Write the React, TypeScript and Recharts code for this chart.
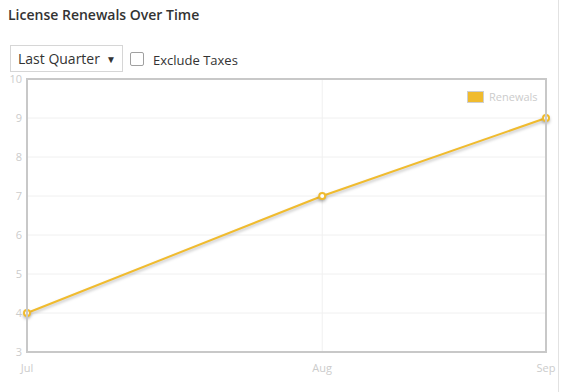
import React from "react";
import {
    LineChart,
    Line,
    XAxis,
    YAxis,
    CartesianGrid,
} from "recharts";

// x positions are days since the start of the quarter (time axis, not evenly spaced)
const months = ["Jul", "Aug", "Sep"];
const days = [0, 31, 54.5];
const renewals = [4, 7, 9];
const yTicks = [3, 4, 5, 6, 7, 8, 9, 10];

const chartData = months.map((month, i) => ({ month, day: days[i], renewals: renewals[i] }));

const LINE_COLOR = "#f0bb2e";
const FONT = "'Open Sans', sans-serif";

const monthForDay = (d: number) => months[days.indexOf(d)] ?? "";

export default function App() {
    return (
        <div style={{ position: "absolute", left: 0, top: 0, width: 562, height: 392, background: "#fff", fontFamily: FONT }}>
            {/* panel edge on the right */}
            <div style={{ position: "absolute", left: 558, top: 0, width: 1, height: 392, background: "#e2e2e2" }} />

            <div style={{ position: "absolute", left: 8, top: 5, fontSize: 14, color: "#333", fontWeight: 600 }}>
                License Renewals Over Time
            </div>

            {/* period select */}
            <div
                style={{
                    position: "absolute",
                    left: 10,
                    top: 45,
                    width: 113,
                    height: 27,
                    border: "1px solid #d6d6d6",
                    boxSizing: "border-box",
                    fontSize: 14,
                    color: "#333",
                    lineHeight: "26px",
                    paddingLeft: 7,
                }}
            >
                Last Quarter
                <span style={{ position: "absolute", right: 6, top: 0, fontSize: 10 }}>▼</span>
            </div>

            {/* exclude taxes checkbox */}
            <div
                style={{
                    position: "absolute",
                    left: 130,
                    top: 52,
                    width: 14,
                    height: 14,
                    border: "1px solid #a0a0a0",
                    borderRadius: 2,
                    boxSizing: "border-box",
                }}
            />
            <div style={{ position: "absolute", left: 153, top: 51, fontSize: 13, color: "#333" }}>
                Exclude Taxes
            </div>

            <div style={{ position: "absolute", left: 0, top: 70 }}>
                <LineChart
                    width={562}
                    height={322}
                    data={chartData}
                    margin={{ top: 9, right: 16, left: 0, bottom: 0 }}
                >
                    <CartesianGrid stroke="#f0f0f0" />
                    <XAxis
                        dataKey="day"
                        type="number"
                        domain={["dataMin", "dataMax"]}
                        ticks={days}
                        interval={0}
                        tickFormatter={monthForDay}
                        height={40}
                        axisLine={false}
                        tickLine={false}
                        tickSize={6}
                        tickMargin={6}
                        tick={{ fill: "#cccccc", fontSize: 11, fontFamily: FONT }}
                    />
                    <YAxis
                        width={27}
                        domain={[3, 10]}
                        ticks={yTicks}
                        interval={0}
                        axisLine={false}
                        tickLine={false}
                        tickSize={5}
                        tickMargin={0}
                        tick={{ fill: "#cccccc", fontSize: 11, fontFamily: FONT }}
                    />
                    <Line
                        type="linear"
                        dataKey="renewals"
                        name="Renewals"
                        stroke={LINE_COLOR}
                        strokeWidth={2}
                        style={{ filter: "drop-shadow(0px 2px 1.5px rgba(0,0,0,0.25))" }}
                        dot={{ r: 3, fill: "#fff", stroke: LINE_COLOR, strokeWidth: 2 }}
                        activeDot={false}
                        isAnimationActive={false}
                    />
                </LineChart>
            </div>

            {/* legend, top right inside the plot */}
            <div
                style={{
                    position: "absolute",
                    left: 467,
                    top: 89,
                    display: "flex",
                    alignItems: "center",
                    fontSize: 11,
                    color: "#cccccc",
                }}
            >
                <span
                    style={{
                        display: "inline-block",
                        width: 17,
                        height: 12,
                        boxSizing: "border-box",
                        background: LINE_COLOR,
                        border: "1px solid #cfcfcf",
                        marginRight: 5,
                    }}
                />
                Renewals
            </div>

            {/* plot border */}
            <div
                style={{
                    position: "absolute",
                    left: 26,
                    top: 78,
                    width: 521,
                    height: 275,
                    border: "2px solid #c8c8c8",
                    boxSizing: "border-box",
                    pointerEvents: "none",
                }}
            />
        </div>
    );
}
